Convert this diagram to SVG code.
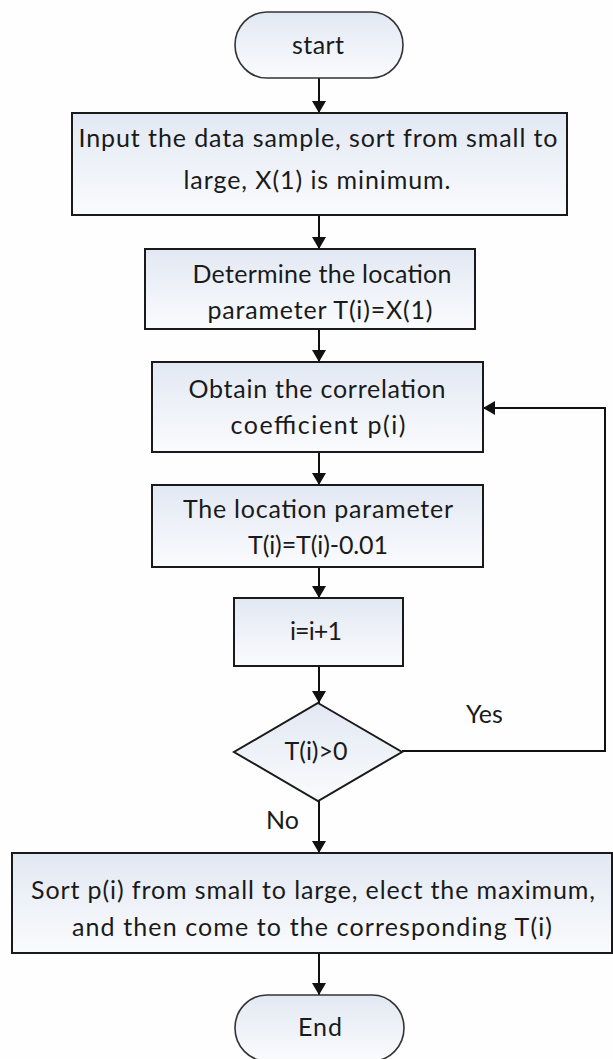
<svg xmlns="http://www.w3.org/2000/svg" width="613" height="1059" viewBox="0 0 613 1059">
  <defs>
    <linearGradient id="fill" x1="0" y1="0" x2="0" y2="1">
      <stop offset="0" stop-color="#e2e8f3"/>
      <stop offset="1" stop-color="#fafbfd"/>
    </linearGradient>
    <marker id="arr" viewBox="0 0 12 14" refX="12" refY="7" markerWidth="12" markerHeight="14" markerUnits="userSpaceOnUse" orient="auto">
      <path d="M0,0 L12,7 L0,14 Z" fill="#111"/>
    </marker>
    <style>
      .box { fill: url(#fill); stroke: #1a1a1a; stroke-width: 2; }
      .term { fill: url(#fill); stroke: #333; stroke-width: 1.6; }
      .t { font-family: Lato, "Open Sans", sans-serif; font-size: 25px; fill: #1a1a1a; text-anchor: middle; }
      .lbl { font-family: Lato, "Open Sans", sans-serif; font-size: 25px; fill: #1a1a1a; }
      .c { fill: none; stroke: #111; stroke-width: 2; }
    </style>
  </defs>
  <rect width="613" height="1059" fill="#fefefe"/>

  <g id="connectors">
    <line class="c" x1="319" y1="78" x2="319" y2="113" marker-end="url(#arr)"/>
    <line class="c" x1="319" y1="215" x2="319" y2="249" marker-end="url(#arr)"/>
    <line class="c" x1="319" y1="329" x2="319" y2="362" marker-end="url(#arr)"/>
    <line class="c" x1="319" y1="452" x2="319" y2="485" marker-end="url(#arr)"/>
    <line class="c" x1="319" y1="567" x2="319" y2="598" marker-end="url(#arr)"/>
    <line class="c" x1="319" y1="666" x2="319" y2="703" marker-end="url(#arr)"/>
    <line class="c" x1="319" y1="801" x2="319" y2="853" marker-end="url(#arr)"/>
    <line class="c" x1="319" y1="953" x2="319" y2="995" marker-end="url(#arr)"/>
    <polyline class="c" points="402,751 605,751 605,408 483,408" marker-end="url(#arr)"/>
    <text class="lbl" x="466" y="723">Yes</text>
    <text class="lbl" x="266" y="829">No</text>
  </g>

  <g id="start">
    <rect class="term" x="235" y="12" width="168" height="66" rx="32" ry="33"/>
    <text class="t" x="318" y="54" textLength="52" lengthAdjust="spacing">start</text>
  </g>

  <g id="input">
    <rect class="box" x="72" y="113" width="495" height="102"/>
    <text class="t" x="318" y="147" textLength="479" lengthAdjust="spacing">Input the data sample, sort from small to</text>
    <text class="t" x="317" y="189" textLength="267" lengthAdjust="spacing">large, X(1) is minimum.</text>
  </g>

  <g id="determine">
    <rect class="box" x="145" y="249" width="330" height="80"/>
    <text class="t" x="322" y="283" textLength="259" lengthAdjust="spacing">Determine the location</text>
    <text class="t" x="320" y="319" textLength="225" lengthAdjust="spacing">parameter T(i)=X(1)</text>
  </g>

  <g id="obtain">
    <rect class="box" x="152" y="362" width="331" height="90"/>
    <text class="t" x="317" y="398" textLength="257" lengthAdjust="spacing">Obtain the correlation</text>
    <text class="t" x="318" y="434" textLength="175" lengthAdjust="spacing">coefficient  p(i)</text>
  </g>

  <g id="update">
    <rect class="box" x="152" y="485" width="331" height="82"/>
    <text class="t" x="318" y="518" textLength="270" lengthAdjust="spacing">The location parameter</text>
    <text class="t" x="318" y="554" textLength="140" lengthAdjust="spacing">T(i)=T(i)-0.01</text>
  </g>

  <g id="increment">
    <rect class="box" x="234" y="598" width="169" height="68"/>
    <text class="t" x="316" y="640" textLength="52" lengthAdjust="spacing">i=i+1</text>
  </g>

  <g id="decision">
    <polygon class="box" points="318,703 402,752 318,801 234,752"/>
    <text class="t" x="316" y="760" textLength="63" lengthAdjust="spacing">T(i)&gt;0</text>
  </g>

  <g id="sort">
    <rect class="box" x="12" y="853" width="600" height="100"/>
    <text class="t" x="313" y="899" textLength="564" lengthAdjust="spacing">Sort p(i) from small to large, elect the maximum,</text>
    <text class="t" x="312" y="936" textLength="480" lengthAdjust="spacing">and then come to the corresponding T(i)</text>
  </g>

  <g id="end">
    <rect class="term" x="235" y="995" width="169" height="66" rx="32" ry="33"/>
    <text class="t" x="320" y="1036" textLength="44" lengthAdjust="spacing">End</text>
  </g>
</svg>
